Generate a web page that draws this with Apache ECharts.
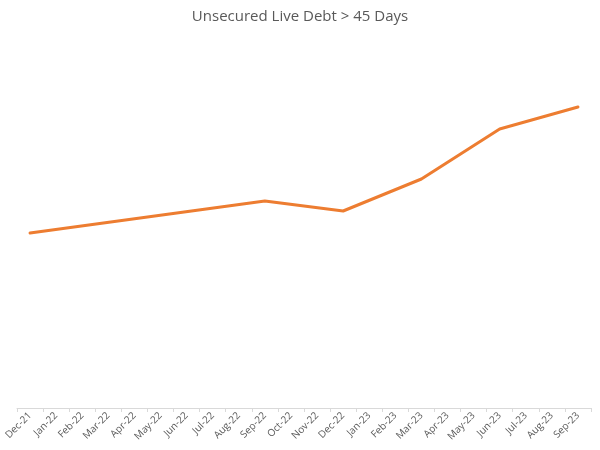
<!DOCTYPE html>
<html>
<head>
<meta charset="utf-8">
<script src="https://cdn.jsdelivr.net/npm/echarts@6/dist/echarts.min.js"></script>
<style>html,body{margin:0;padding:0;background:#fff;}#c{width:600px;height:450px;}</style>
</head>
<body>
<div id="c"></div>
<script>
var titleText = 'Unsecured Live Debt > 45 Days';
var months = ['Dec-21','Jan-22','Feb-22','Mar-22','Apr-22','May-22','Jun-22','Jul-22','Aug-22','Sep-22','Oct-22','Nov-22','Dec-22','Jan-23','Feb-23','Mar-23','Apr-23','May-23','Jun-23','Jul-23','Aug-23','Sep-23'];
var debtValues = [175, null, null, null, null, null, null, null, null, 207, null, null, 197, null, null, 229, null, null, 279, null, null, 301];

var chart = echarts.init(document.getElementById('c'), null, {renderer: 'canvas'});
chart.setOption({
  animation: false,
  backgroundColor: '#ffffff',
  title: {
    text: titleText,
    left: 'center',
    top: 4,
    textStyle: {fontFamily: 'Open Sans', fontSize: 15, fontWeight: 'normal', color: '#595959'}
  },
  grid: {left: 17, right: 9, top: 48, bottom: 42, containLabel: false},
  xAxis: {
    type: 'category',
    data: months,
    boundaryGap: true,
    axisLine: {lineStyle: {color: '#d9d9d9', width: 1}},
    axisTick: {show: true, alignWithLabel: false, length: 4, lineStyle: {color: '#d9d9d9'}},
    axisLabel: {rotate: 45, interval: 0, fontFamily: 'Open Sans', fontSize: 10, color: '#595959', margin: 6}
  },
  yAxis: {
    type: 'value',
    min: 0,
    max: 360,
    show: false,
    splitLine: {show: false}
  },
  series: [{
    type: 'line',
    data: debtValues,
    connectNulls: true,
    showSymbol: false,
    symbol: 'none',
    lineStyle: {color: '#ED7D31', width: 3, cap: 'round', join: 'round'}
  }]
});
</script>
</body>
</html>
